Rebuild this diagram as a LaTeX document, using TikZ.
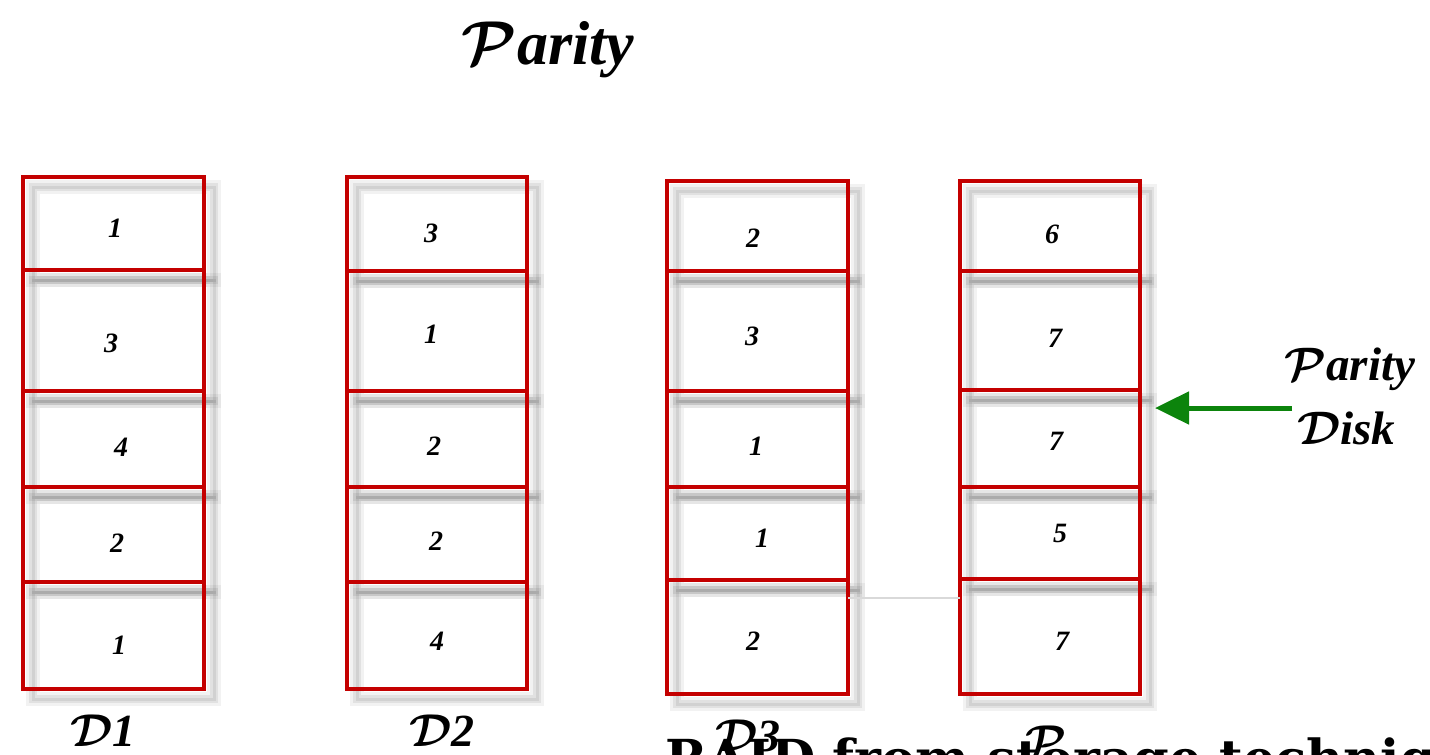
\RequirePackage{fix-cm}
\documentclass[tikz,border=0pt]{standalone}
\usepackage{fontspec}
\usepackage{amsmath}
\newfontfamily\captfont{DejaVu Serif}
\newfontfamily\corsfont{Liberation Serif}
\usetikzlibrary{arrows.meta}
\definecolor{boxred}{RGB}{196,0,0}
\definecolor{arrowgreen}{RGB}{12,132,12}
\newcommand\calP{{\boldmath$\mathcal{P}$}}
\newcommand\calD{{\boldmath$\mathcal{D}$}}
\newcommand\bi[1]{{\corsfont\bfseries\itshape #1}}
\begin{document}
\begin{tikzpicture}[x=1pt,y=-1pt,
  cellbox/.style={draw=boxred, line width=4pt, inner sep=0pt, outer sep=0pt, anchor=north west},
  shadowA/.style={draw=black, opacity=0.05, line width=14pt},
  shadowB/.style={draw=black, opacity=0.07, line width=8pt},
  shadowC/.style={draw=black, opacity=0.07, line width=3pt},
  digit/.style={inner sep=0pt, font=\corsfont\fontsize{28}{30}\selectfont\bfseries\itshape},
  calig/.style={inner sep=0pt, align=center},
  parrow/.style={draw=arrowgreen, line width=5pt, -{Triangle[length=34pt,width=32pt]}}]
\useasboundingbox (0,0) rectangle (1430,755);
\clip (0,0) rectangle (1430,755);

% ---- cell shadows: name / x / top / width / height
\foreach \n/\x/\t/\w/\h in {
  a1/23/177/181/93, a2/23/270/181/121, a3/23/391/181/96, a4/23/487/181/95, a5/23/582/181/107,
  b1/347/177/180/94, b2/347/271/180/120, b3/347/391/180/96, b4/347/487/180/95, b5/347/582/180/107,
  c1/667/181/181/90, c2/667/271/181/120, c3/667/391/181/96, c4/667/487/181/93, c5/667/580/181/114,
  d1/960/181/180/90, d2/960/271/180/119, d3/960/390/180/97, d4/960/487/180/92, d5/960/579/180/115}{
  \draw[shadowA] (\x+10,\t+10) rectangle ++(\w,\h);
  \draw[shadowB] (\x+10,\t+10) rectangle ++(\w,\h);
  \draw[shadowC] (\x+10,\t+10) rectangle ++(\w,\h);
}
% ---- cells
\foreach \n/\x/\t/\w/\h in {
  a1/23/177/181/93, a2/23/270/181/121, a3/23/391/181/96, a4/23/487/181/95, a5/23/582/181/107,
  b1/347/177/180/94, b2/347/271/180/120, b3/347/391/180/96, b4/347/487/180/95, b5/347/582/180/107,
  c1/667/181/181/90, c2/667/271/181/120, c3/667/391/181/96, c4/667/487/181/93, c5/667/580/181/114,
  d1/960/181/180/90, d2/960/271/180/119, d3/960/390/180/97, d4/960/487/180/92, d5/960/579/180/115}{
  \node[cellbox, minimum width=\w pt, minimum height=\h pt] (\n) at (\x,\t) {};
}
% faint line between D3 and P
\draw[black!15, line width=1.5pt] (c5.north east) ++(0,18) coordinate (g1) -- (g1 -| d5.west);

% ---- digits
\foreach \n/\x/\y/\v in {
  na1/115/228/1, na2/111/343/3, na3/121/447/4, na4/117/543/2, na5/119/645/1,
  nb1/431/233/3, nb2/431/334/1, nb3/434/446/2, nb4/436/541/2, nb5/437/641/4,
  nc1/753/238/2, nc2/752/336/3, nc3/756/446/1, nc4/762/538/1, nc5/753/641/2,
  nd1/1052/234/6, nd2/1055/338/7, nd3/1056/441/7, nd4/1060/533/5, nd5/1062/641/7}{
  \node[digit] (\n) at (\x,\y) {\v};
}

% ---- title and labels
\node[calig, font=\fontsize{62}{66}\selectfont] (title) at (548,50) {\calP\bi{arity}};
\node[calig, font=\fontsize{46}{50}\selectfont] (l1) at (103,731) {\calD\bi{1}};
\node[calig, font=\fontsize{46}{50}\selectfont] (l2) at (442,731) {\calD\bi{2}};
\node[calig, font=\fontsize{46}{50}\selectfont] (l3) at (748,736) {\calD\bi{3}};
\node[calig, font=\fontsize{46}{50}\selectfont] (l4) at (1046,742) {\calP};
\node[calig, font=\fontsize{47}{50}\selectfont, anchor=west] (pd1) at (1284,369) {\calP\bi{arity}};
\node[calig, font=\fontsize{47}{50}\selectfont, anchor=west] (pd2) at (1297,428) {\calD\bi{isk}};

% ---- arrow
\coordinate (astart) at (1292,408);
\draw[parrow] (astart) -- ([xshift=15pt]astart -| d3.east);

% ---- caption (cut by the frame)
\node[anchor=base west, inner sep=0pt, font=\captfont\bfseries\fontsize{51}{56}\selectfont] (cap) at (665,776) {RAID from storage technique};
\end{tikzpicture}
\end{document}
